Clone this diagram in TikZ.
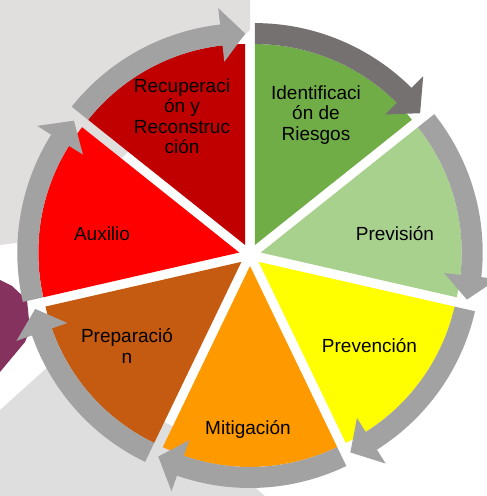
\documentclass[tikz,border=0pt]{standalone}
\usepackage{fontspec}
\setmainfont{Liberation Sans}
\definecolor{cDarkRed}{HTML}{C00000}
\definecolor{cGreen}{HTML}{70AD47}
\definecolor{cLight}{HTML}{A9D18E}
\definecolor{cYellow}{HTML}{FFFF00}
\definecolor{cOrange}{HTML}{FF9900}
\definecolor{cBrown}{HTML}{C55A11}
\definecolor{cRed}{HTML}{FF0000}
\definecolor{cArrow}{HTML}{A2A2A2}
\definecolor{cArrowDark}{HTML}{767171}
\definecolor{cBg}{HTML}{E1DEDE}
\definecolor{cBg2}{HTML}{DEDEDE}
\definecolor{cMaroon}{HTML}{86325E}
\begin{document}
\begin{tikzpicture}[x=1pt,y=1pt,
  lbl/.style={font=\fontsize{19}{20.5}\selectfont, align=center, inner sep=0pt, text=black}]
\useasboundingbox (0,0) rectangle (487,496);
\clip (0,0) rectangle (487,496);
% background texture
\fill[cBg] (0,496) -- (250,496) -- (250,466) -- (40,256) -- (0,251) -- cycle;
\fill[cMaroon] (0,216) -- (12,210) -- (27,196) -- (30,166) -- (25,154) -- (0,124) -- cycle;
\fill[cBg2] (0,86) -- (50,131) -- (120,96) -- (200,56) -- (265,0) -- (0,0) -- cycle;
% slices
\foreach \i/\col in {0/cGreen,1/cLight,2/cYellow,3/cOrange,4/cBrown,5/cRed,6/cDarkRed}{
  \pgfmathsetmacro\s{90-51.4286*\i}
  \pgfmathsetmacro\e{\s-51.4286}
  \pgfmathsetmacro\b{\s-25.7143}
  \begin{scope}[shift={(250,241)}, shift={(\b:11)}]
    \fill[\col] (0,0) -- (\s:201) arc[start angle=\s, end angle=\e, radius=201] -- cycle;
  \end{scope}
}
% arrows
\foreach \i/\acol in {0/cArrowDark,1/cArrow,2/cArrow,3/cArrow,4/cArrow,5/cArrow,6/cArrow}{
  \pgfmathsetmacro\s{90-51.4286*\i}
  \pgfmathsetmacro\e{\s-51.4286}
  \pgfmathsetmacro\b{\s-25.7143}
  \pgfmathsetmacro\h{\e+6.5}
  \begin{scope}[shift={(250,241)}, shift={(\b:11)}]
    \fill[\acol] (\s:222) arc[start angle=\s, end angle=\h, radius=222]
      -- (\h:238.5) -- (\e:211.5) -- (\h:184.5) -- (\h:201)
      arc[start angle=\h, end angle=\s, radius=201] -- cycle;
  \end{scope}
}
% labels
\node[lbl] (ident) at (316,381) {Identificaci\\ón de\\Riesgos};
\node[lbl] (prev) at (395,262) {Previsión};
\node[lbl] (preven) at (369.5,150) {Prevención};
\node[lbl] (mitig) at (248,67) {Mitigación};
\node[lbl] (prep) at (127,150) {Preparació\\n};
\node[lbl] (aux) at (102,262) {Auxilio};
\node[lbl] (recup) at (182,380) {Recuperaci\\ón y\\Reconstruc\\ción};
\end{tikzpicture}
\end{document}
